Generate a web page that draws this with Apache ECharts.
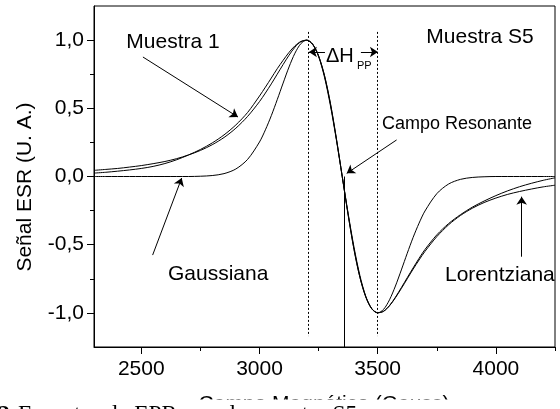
<!DOCTYPE html>
<html><head><meta charset="utf-8">
<script src="https://cdn.jsdelivr.net/npm/echarts@6/dist/echarts.min.js"></script>
<style>html,body{margin:0;padding:0;background:#fff}#c{width:560px;height:409px}</style>
</head><body><div id="c"></div>
<script>
// Magnetic field (Gauss)
const field = [2300,2350,2400,2450,2500,2550,2600,2650,2700,2750,2800,2850,2900,2950,
  3000,3025,3050,3075,3100,3125,3150,3175,3200,3225,3250,3275,3300,3325,3350,
  3375,3400,3425,3450,3475,3500,3525,3550,3575,3600,3625,3650,3675,3700,
  3750,3800,3850,3900,3950,4000,4050,4100,4150,4200,4250];
// Muestra 1 (experimental)
const muestra1 = [0.025,0.031,0.039,0.048,0.059,0.074,0.095,0.123,0.158,0.198,0.246,0.305,0.378,0.47,
  0.59,0.655,0.722,0.79,0.852,0.91,0.958,0.99,1.0,0.968,0.883,0.738,0.533,0.279,0,
  -0.28,-0.535,-0.74,-0.884,-0.969,-0.999,-0.988,-0.946,-0.885,-0.815,-0.742,-0.67,-0.60,-0.535,
  -0.428,-0.345,-0.28,-0.225,-0.18,-0.14,-0.105,-0.075,-0.05,-0.028,-0.01];
// Lorentzian fit
const lorentziana = [0.045,0.052,0.059,0.069,0.080,0.094,0.110,0.131,0.158,0.191,0.233,0.286,0.354,0.441,
  0.549,0.612,0.679,0.750,0.821,0.889,0.948,0.988,0.999,0.969,0.885,0.741,0.537,0.282,0,
  -0.282,-0.537,-0.741,-0.885,-0.969,-0.999,-0.988,-0.948,-0.889,-0.821,-0.750,-0.679,-0.612,-0.549,
  -0.441,-0.354,-0.286,-0.233,-0.191,-0.158,-0.131,-0.110,-0.092,-0.076,-0.064];
// Gaussian fit
const gaussiana = [0,0,0,0,0,0,0,0,0,0.002,0.007,0.021,0.055,0.126,
  0.253,0.342,0.446,0.563,0.685,0.803,0.904,0.974,1.0,0.971,0.880,0.728,0.520,0.271,0,
  -0.271,-0.520,-0.728,-0.880,-0.971,-1.0,-0.974,-0.904,-0.803,-0.685,-0.563,-0.446,-0.342,-0.253,
  -0.126,-0.055,-0.021,-0.007,-0.002,0,0,0,0,0,0];

const xMajorTicks = [2500,3000,3500,4000];
const xMinorTicks = [2750,3250,3750,4250];
const yMajorTicks = [-1,-0.5,0,0.5,1];
const yMinorTicks = [-0.75,-0.25,0.25,0.75];
const peakField = 3205, troughField = 3500, resonantField = 3357;

const SANS = "Liberation Sans";
const SERIF = "Liberation Serif";
const pair = ys => field.map((x,i)=>[x, ys[i]]);
const fmtY = v => Math.abs(v) < 1e-9 ? '0,0' : v.toFixed(1).replace('.', ',');
const fmtX = v => String(Math.round(v));

const chart = echarts.init(document.getElementById('c'), null, {renderer:'canvas'});

const lineSeries = (name, ys, extra) => Object.assign({
  name, type:'line', data: pair(ys), showSymbol:false, smooth:0.3,
  lineStyle:{color:'#000', width:1}, silent:true, z:3
}, extra || {});

const ml = (a, b) => [{coord:a, symbol:'none'}, {coord:b, symbol:'arrow', symbolSize:8}];
const txt = (x, y, text, size, align, extra) => Object.assign({
  type:'text', x, y,
  style:{text, fontSize:size, fontFamily:SANS, fill:'#000', align:align||'left', verticalAlign:'middle'}
}, extra || {});

chart.setOption({
  animation:false,
  backgroundColor:'#fff',
  grid:{left:94, right:5, top:6, bottom:62, show:true, borderColor:'#000', borderWidth:1, backgroundColor:'transparent'},
  xAxis:[{
    type:'value', min:2300, max:4250, position:'bottom',
    axisLine:{show:true, onZero:false, lineStyle:{color:'#000', width:1}},
    axisTick:{show:true, inside:false, length:7, customValues:xMajorTicks, lineStyle:{color:'#000'}},
    axisLabel:{customValues:xMajorTicks, formatter:fmtX, color:'#000', fontSize:21, fontFamily:SANS, margin:12},
    splitLine:{show:false}
  },{
    type:'value', min:2300, max:4250, position:'bottom', gridIndex:0,
    axisLine:{show:false, onZero:false},
    axisTick:{show:true, inside:false, length:4, customValues:xMinorTicks, lineStyle:{color:'#000'}},
    axisLabel:{show:false}, splitLine:{show:false}
  }],
  yAxis:[{
    type:'value', min:-1.25, max:1.25, position:'left',
    axisLine:{show:true, onZero:false, lineStyle:{color:'#000', width:1}},
    axisTick:{show:true, inside:false, length:7, customValues:yMajorTicks, lineStyle:{color:'#000'}},
    axisLabel:{customValues:yMajorTicks, formatter:fmtY, color:'#000', fontSize:21, fontFamily:SANS, margin:10},
    splitLine:{show:false}
  },{
    type:'value', min:-1.25, max:1.25, position:'left', gridIndex:0,
    axisLine:{show:false, onZero:false},
    axisTick:{show:true, inside:false, length:4, customValues:yMinorTicks, lineStyle:{color:'#000'}},
    axisLabel:{show:false}, splitLine:{show:false}
  }],
  series:[
    lineSeries('Gaussiana', gaussiana),
    lineSeries('Muestra 1', muestra1),
    lineSeries('Lorentziana', lorentziana, {
      markLine:{
        silent:true, animation:false, label:{show:false}, symbol:['none','none'],
        lineStyle:{color:'#000', width:1, type:'solid'},
        emphasis:{disabled:true},
        data:[
          [{coord:[peakField,1.06], symbol:'none', lineStyle:{type:[2,2], width:1, color:'#000'}},{coord:[peakField,-1.17], symbol:'none'}],
          [{coord:[troughField,1.06], symbol:'none', lineStyle:{type:[2,2], width:1, color:'#000'}},{coord:[troughField,-1.17], symbol:'none'}],
          [{coord:[resonantField,0], symbol:'none'},{coord:[resonantField,-1.25], symbol:'none'}],
          ml([2507,0.876],[2909,0.436]),
          ml([2548,-0.576],[2671,-0.011]),
          ml([3580,0.268],[3369,0.023]),
          ml([4109,-0.588],[4109,-0.148]),
          ml([3277,0.913],[3209,0.913]),
          ml([3429,0.913],[3501,0.913])
        ]
      }
    })
  ],
  graphic:[
    txt(173, 42, 'Muestra 1', 21, 'center'),
    txt(480, 37, 'Muestra S5', 21, 'center'),
    txt(326, 56, 'ΔH', 20),
    txt(357, 66, 'PP', 11),
    txt(382, 124, 'Campo Resonante', 18),
    txt(168, 274, 'Gaussiana', 21),
    txt(445, 275, 'Lorentziana', 21),
    txt(25, 187, 'Señal ESR (U. A.)', 21, 'center', {rotation:Math.PI/2}),
    txt(324, 404, 'Campo Magnético (Gauss)', 21, 'center', {z:10}),
    {type:'rect', z:20, shape:{x:0, y:399.5, width:560, height:10}, style:{fill:'#fff'}},
    {type:'text', x:-2, y:414.5, z:30, style:{text:'2', fontSize:23.5, fontWeight:'bold', fontFamily:SERIF, fill:'#000', align:'left', verticalAlign:'middle'}},
    {type:'text', x:18, y:414.5, z:30, style:{text:'Espectro de EPR para la muestra S5', fontSize:23.5, fontFamily:SERIF, fill:'#000', align:'left', verticalAlign:'middle'}}
  ]
});
</script></body></html>
